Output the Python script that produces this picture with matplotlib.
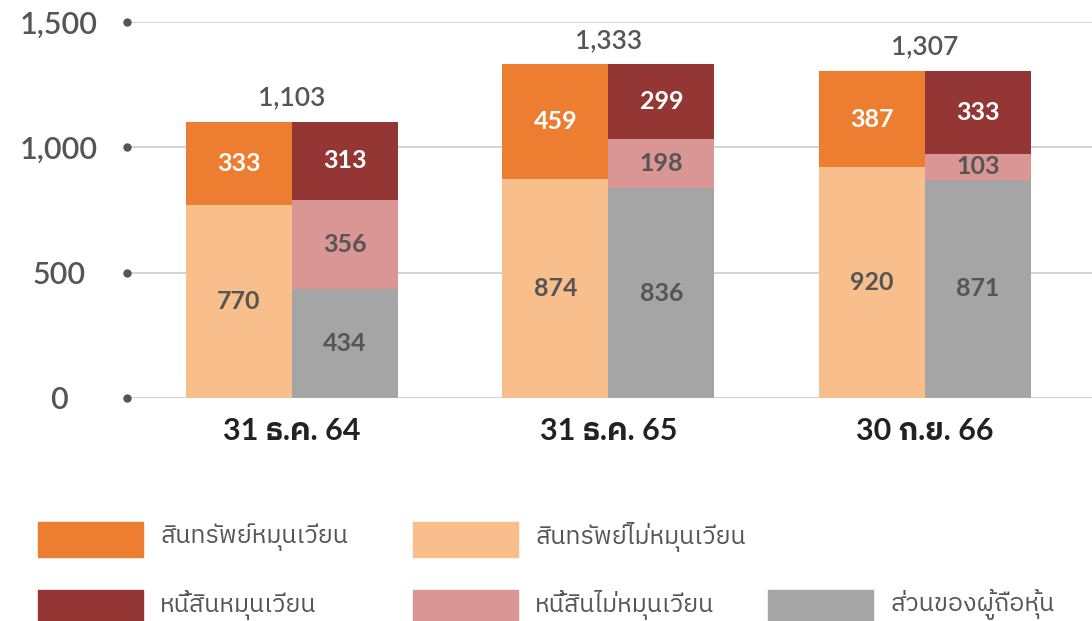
import matplotlib
matplotlib.use("Agg")
import matplotlib.pyplot as plt
from matplotlib import font_manager
from matplotlib.patches import Rectangle

# values in million baht
periods = ["31 ธ.ค. 64", "31 ธ.ค. 65", "30 ก.ย. 66"]
current_assets = [333, 459, 387]
noncurrent_assets = [770, 874, 920]
current_liab = [313, 299, 333]
noncurrent_liab = [356, 198, 103]
equity = [434, 836, 871]
totals = [1103, 1333, 1307]
yticks = [0, 500, 1000, 1500]

legend_names = [
    "สินทรัพย์หมุนเวียน",
    "สินทรัพย์ไม่หมุนเวียน",
    "หนี้สินหมุนเวียน",
    "หนี้สินไม่หมุนเวียน",
    "ส่วนของผู้ถือหุ้น",
]

C_CA = "#ED7D31"
C_NCA = "#F8BE8C"
C_CL = "#943634"
C_NCL = "#D99694"
C_EQ = "#A5A5A5"
TXT = "#555555"


def find_thai_font():
    try:
        from fontTools.ttLib import TTFont
    except ImportError:
        return None
    preferred = []
    others = []
    for f in font_manager.fontManager.ttflist:
        try:
            font = TTFont(f.fname, fontNumber=0, lazy=True)
            cmap = font.getBestCmap()
        except Exception:
            continue
        if cmap and 0x0E2A in cmap:
            if "Thai" in f.name:
                preferred.append(f.name)
            else:
                others.append(f.name)
    if preferred:
        return preferred[0]
    if others:
        return others[0]
    return None


thai = find_thai_font()
families = ["Lato", "DejaVu Sans"]
if thai:
    families = ["Lato", thai, "DejaVu Sans"]
plt.rcParams["font.family"] = families

fig = plt.figure(figsize=(10.92, 6.21), dpi=100)
ax = fig.add_axes([127 / 1092, 1 - 397.7 / 621, 1 - 127 / 1092, (397.7 - 22.3) / 621])

x = list(range(len(periods)))
w = 0.335
left = [i - w / 2 for i in x]
right = [i + w / 2 for i in x]

ax.bar(left, noncurrent_assets, w, color=C_NCA, zorder=2)
ax.bar(left, current_assets, w, bottom=noncurrent_assets, color=C_CA, zorder=2)
ax.bar(right, equity, w, color=C_EQ, zorder=2)
ax.bar(right, noncurrent_liab, w, bottom=equity, color=C_NCL, zorder=2)
b2 = [e + n for e, n in zip(equity, noncurrent_liab)]
ax.bar(right, current_liab, w, bottom=b2, color=C_CL, zorder=2)

lab = dict(ha="center", va="center", fontsize=18, fontweight="bold", zorder=3)
for i in x:
    ax.text(left[i], noncurrent_assets[i] / 2, str(noncurrent_assets[i]), color=TXT, **lab)
    ax.text(left[i], noncurrent_assets[i] + current_assets[i] / 2, str(current_assets[i]),
            color="white", **lab)
    ax.text(right[i], equity[i] / 2, str(equity[i]), color=TXT, **lab)
    ax.text(right[i], equity[i] + noncurrent_liab[i] / 2, str(noncurrent_liab[i]), color=TXT, **lab)
    ax.text(right[i], b2[i] + current_liab[i] / 2, str(current_liab[i]), color="white", **lab)
    ax.text(i, totals[i] + 45, f"{totals[i]:,}", ha="center", va="bottom",
            fontsize=19, color=TXT, fontweight="semibold", clip_on=False)

ax.set_xlim(-0.521, 2.528)
ax.set_ylim(0, 1500)
ax.set_yticks(yticks)
ax.set_yticklabels([f"{v:,}" for v in yticks], fontsize=22, color=TXT, fontweight="semibold")
for t in ax.get_yticklabels():
    t.set_horizontalalignment("center")
ax.tick_params(axis="y", length=0, pad=49)
ax.set_xticks(x)
ax.set_xticklabels(periods, fontsize=22, color="#222222", fontweight="bold")
ax.tick_params(axis="x", length=0, pad=14)
ax.grid(axis="y", color="#d0d0d0", linewidth=1.3, zorder=0)
ax.plot([-0.521] * len(yticks), yticks, "o", color=TXT, ms=5, clip_on=False, zorder=4)
for s in ax.spines.values():
    s.set_visible(False)

# legend drawn by hand: two rows
leg_colors = [C_CA, C_NCA, C_CL, C_NCL, C_EQ]
leg_pos = [(38, 522), (413, 522), (38, 590), (413, 590), (768, 590)]
for name, col, (px, py) in zip(legend_names, leg_colors, leg_pos):
    fig.add_artist(Rectangle((px / 1092, 1 - (py + 35) / 621), 105 / 1092, 35 / 621,
                             transform=fig.transFigure, color=col))
    fig.text((px + 122) / 1092, 1 - (py + 15) / 621, name, ha="left", va="center",
             fontsize=18, color=TXT)

fig.savefig("out.png", dpi=100)
